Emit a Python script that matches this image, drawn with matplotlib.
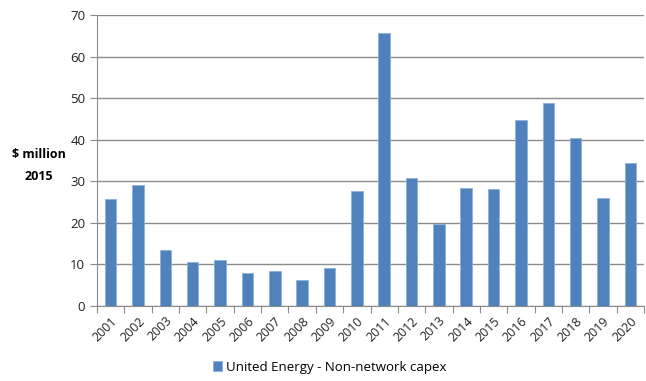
import numpy as np
import matplotlib.pyplot as plt

years = [str(y) for y in range(2001, 2021)]
capex = [25.7, 29.1, 13.4, 10.5, 11.0, 7.9, 8.4, 6.2, 9.1, 27.7,
         65.7, 30.7, 19.8, 28.5, 28.1, 44.7, 48.8, 40.4, 25.9, 34.3]
series_name = "United Energy - Non-network capex"

plt.rcParams["font.family"] = ["Open Sans", "DejaVu Sans"]

fig = plt.figure(figsize=(6.46, 3.81), dpi=100)
ax = fig.add_axes([97 / 646, 1 - 306 / 381, (644 - 97) / 646, (306 - 15) / 381])

x = np.arange(len(years))
bars = ax.bar(x, capex, width=0.42, color="#4F81BD", edgecolor="#8EB0DA",
              linewidth=0.6, zorder=3, label=series_name)

ax.set_xlim(-0.5, len(years) - 0.5)
ax.set_ylim(0, 70)
ax.set_yticks(range(0, 71, 10))
ax.yaxis.grid(True, color="#8C8C8C", linewidth=1.0, zorder=0)

# category boundaries get the tick marks, centres get the labels
ax.set_xticks(np.arange(-0.5, len(years) + 0.5, 1))
ax.set_xticklabels([])
ax.set_xticks(x, minor=True)
ax.set_xticklabels(years, minor=True, rotation=45, ha="right",
                   rotation_mode="anchor", fontsize=9, color="#222222")
ax.tick_params(axis="x", which="major", length=5, color="#8C8C8C", direction="out")
ax.tick_params(axis="x", which="minor", length=0, pad=6)
ax.tick_params(axis="y", length=5, color="#8C8C8C", labelsize=9.5, labelcolor="#222222")

for side in ("top", "right"):
    ax.spines[side].set_visible(False)
for side in ("left", "bottom"):
    ax.spines[side].set_color("#8C8C8C")

fig.text(39 / 646, 1 - 165 / 381, "$ million\n2015", ha="center", va="center",
         fontsize=9, fontweight="bold", linespacing=1.9)

fig.legend(handles=[bars], loc="center", bbox_to_anchor=(330 / 646, 1 - 367 / 381),
           frameon=False, fontsize=9.5, handlelength=0.7, handleheight=0.7,
           handletextpad=0.3)

fig.savefig("out.png", dpi=100)
